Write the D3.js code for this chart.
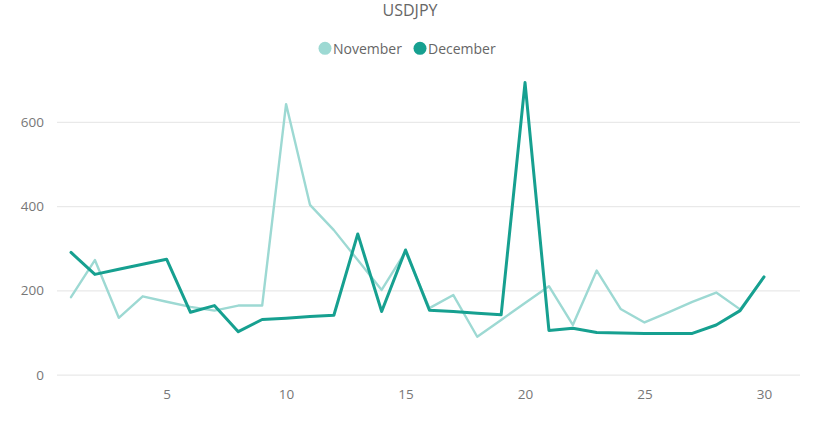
<!DOCTYPE html>
<html>
<head>
<meta charset="utf-8">
<script src="https://cdn.jsdelivr.net/npm/d3@7/dist/d3.min.js"></script>
<style>
  body { margin: 0; background: #fff; }
  svg { display: block; font-family: "Open Sans", "Segoe UI", sans-serif; }
</style>
</head>
<body>
<svg id="chart" width="840" height="423"></svg>
<script>
const title = "USDJPY";
const days = d3.range(1, 31);
const november = [184, 272, 135, 186, 173, 161, 152, 164, 164, 642,
                  403, 343, 272, 201, 292, 158, 189, 90, 130, 170,
                  210, 118, 247, 156, 124, 148, 173, 195, 155, 232];
const december = [290, 238, 250, 262, 274, 148, 164, 102, 131, 134,
                  138, 141, 334, 150, 296, 153, 150, 146, 142, 693,
                  105, 110, 100, 99, 98, 98, 98, 118, 152, 232];
const yTicks = [0, 200, 400, 600];
const xTicks = [5, 10, 15, 20, 25, 30];
const seriesNames = ["November", "December"];
const colors = ["#9dd9d3", "#16a090"];
const widths = [2.4, 3];

const svg = d3.select("#chart");
const x = d3.scaleLinear().domain([1, 30]).range([71, 764]);
const y = d3.scaleLinear().domain([0, 600]).range([374.7, 121.8]);

// title
svg.append("text").attr("x", 410).attr("y", 16).attr("text-anchor", "middle")
  .attr("font-size", 16).attr("fill", "#666").text(title);

// legend
const legendX = [325, 420];
seriesNames.forEach((n, i) => {
  svg.append("circle").attr("cx", legendX[i]).attr("cy", 48.3).attr("r", 6.5).attr("fill", colors[i]);
  svg.append("text").attr("x", legendX[i] + 8).attr("y", 53.5).attr("font-size", 14)
    .attr("fill", "#666").text(n);
});

// grid + y axis
const yAxis = d3.axisLeft(y).tickValues(yTicks).tickSize(-(800 - 57)).tickPadding(13);
const gy = svg.append("g").attr("transform", "translate(57,0)").call(yAxis);
gy.select(".domain").remove();
gy.selectAll(".tick line").attr("stroke", "#e9e9e9").attr("stroke-width", 1.3);
gy.selectAll(".tick text").attr("fill", "#777").attr("font-size", 13.5).attr("font-family", "Open Sans, sans-serif");

// x axis
const xAxis = d3.axisBottom(x).tickValues(xTicks).tickSize(0).tickPadding(9);
const gx = svg.append("g").attr("transform", "translate(0,380)").call(xAxis);
gx.select(".domain").remove();
gx.selectAll(".tick text").attr("fill", "#777").attr("font-size", 13.5).attr("font-family", "Open Sans, sans-serif");

// lines
const line = d3.line().x((d, i) => x(days[i])).y(d => y(d));
[november, december].forEach((s, i) => {
  svg.append("path").datum(s).attr("d", line).attr("fill", "none")
    .attr("stroke", colors[i]).attr("stroke-width", widths[i])
    .attr("stroke-linejoin", "round").attr("stroke-linecap", "round");
});
</script>
</body>
</html>
